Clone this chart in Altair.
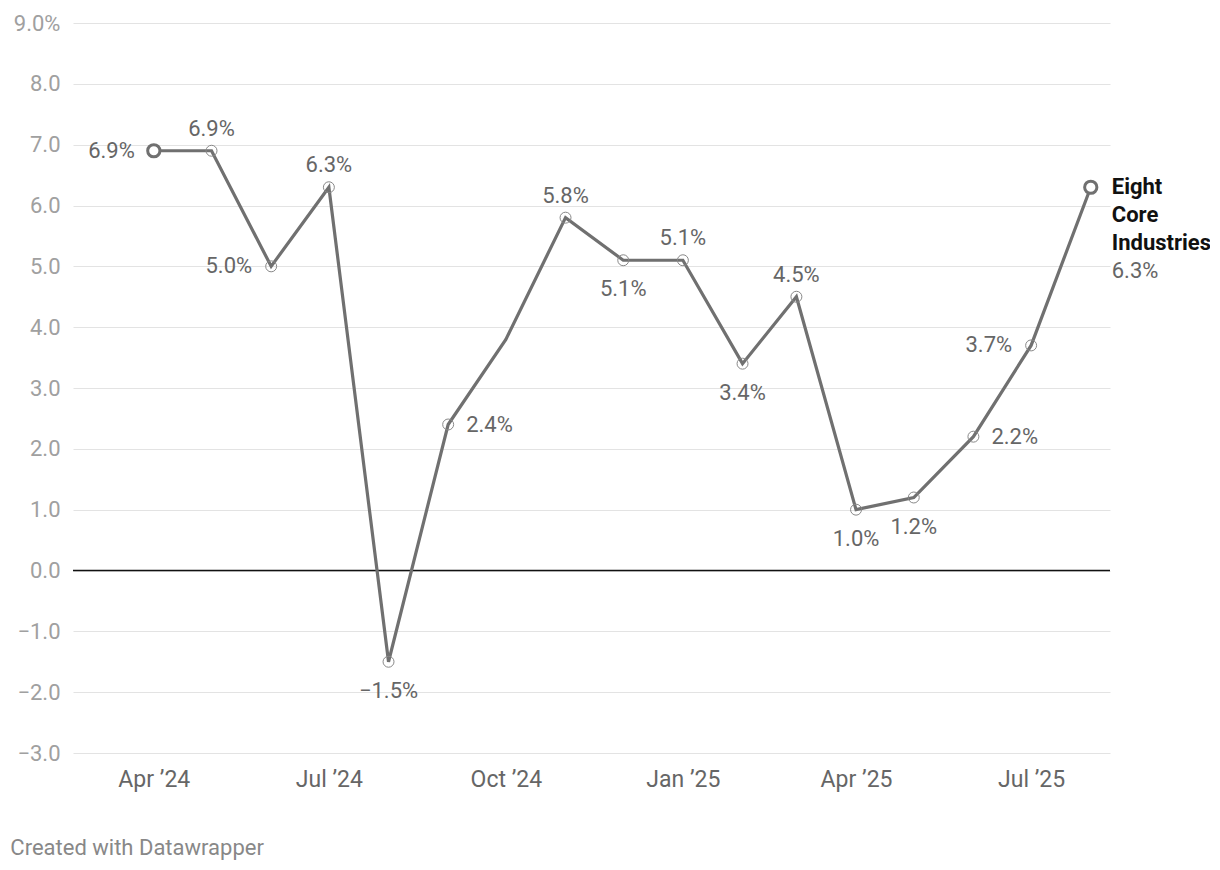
import altair as alt
import pandas as pd

# ---- data ----
months = ["2024-04-01", "2024-05-01", "2024-06-01", "2024-07-01", "2024-08-01",
          "2024-09-01", "2024-10-01", "2024-11-01", "2024-12-01", "2025-01-01",
          "2025-02-01", "2025-03-01", "2025-04-01", "2025-05-01", "2025-06-01",
          "2025-07-01", "2025-08-01"]
values = [6.9, 6.9, 5.0, 6.3, -1.5, 2.4, 3.8, 5.8, 5.1, 5.1, 3.4, 4.5, 1.0, 1.2, 2.2, 3.7, 6.3]
placement = ["left", "above", "left", "above", "below", "right", "none", "above",
             "below", "above", "below", "above", "below", "below", "right", "left", "end"]
series_name = "Eight Core Industries"
y_ticks = list(range(-3, 10))
x_ticks = ["2024-04-01", "2024-07-01", "2024-10-01", "2025-01-01", "2025-04-01", "2025-07-01"]
footer = "Created with Datawrapper"

df = pd.DataFrame({"month": months, "value": values, "pos": placement})
df["idx"] = range(len(df))
df["label"] = [f"{v:.1f}%".replace("-", "\u2212") for v in values]
df["name"] = series_name

FONT = "Roboto"
LINE = "#707070"
LABEL = "#666666"
FS = 22

x_enc = alt.X("month:T",
              scale=alt.Scale(type="utc",
                              domain=[alt.DateTime(year=2024, month=2, date=19, utc=True),
                                      alt.DateTime(year=2025, month=8, date=11, utc=True)]),
              axis=alt.Axis(values=[alt.DateTime(year=int(s[:4]), month=int(s[5:7]), date=1, utc=True) for s in x_ticks],
                            format="%b \u2019%y", grid=False, domain=False, ticks=False,
                            labelPadding=15, labelFontSize=23, labelColor=LABEL,
                            labelFont=FONT, title=None))
y_enc = alt.Y("value:Q",
              scale=alt.Scale(domain=[-3, 9], nice=False, zero=False),
              axis=alt.Axis(values=y_ticks,
                            labelExpr="datum.value == 9 ? '9.0%' : format(datum.value, '.1f')",
                            grid=True, gridColor="#e3e3e3", gridWidth=1, domain=False, ticks=False,
                            labelPadding=13, labelFontSize=FS, labelColor="#a0a0a0",
                            labelFont=FONT, title=None))

base = alt.Chart(df).encode(x=x_enc, y=y_enc)

zero = alt.Chart(pd.DataFrame({"z": [0]})).mark_rule(color="#111", strokeWidth=1.5).encode(y="z:Q")

line = base.mark_line(color=LINE, strokeWidth=3.2)

small = base.mark_point(shape="circle", size=120, filled=False, stroke="#888", strokeWidth=1,
                        opacity=1).transform_filter(
    "datum.idx > 0 && datum.idx < 16 && datum.pos != 'none'")

ends = base.mark_point(shape="circle", size=150, filled=True, fill="white", stroke=LINE,
                       strokeWidth=3, opacity=1).transform_filter("datum.idx == 0 || datum.idx == 16")

def lab(pos, **kw):
    return base.mark_text(font=FONT, fontSize=FS, color=LABEL, **kw).encode(
        text="label:N").transform_filter(f"datum.pos == '{pos}'")

lab_left = lab("left", align="right", baseline="middle", dx=-19)
lab_right = lab("right", align="left", baseline="middle", dx=18)
lab_above = lab("above", align="center", baseline="middle", dy=-22)
lab_below = lab("below", align="center", baseline="middle", dy=29)

end_name = base.mark_text(font=FONT, fontSize=FS, fontWeight="bold", color="#111",
                          align="left", baseline="middle", dx=21, lineBreak=" ",
                          lineHeight=28, dy=0).encode(text="name:N").transform_filter("datum.pos == 'end'")
end_val = base.mark_text(font=FONT, fontSize=FS, color=LABEL, align="left", baseline="middle",
                         dx=21, dy=84).encode(text="label:N").transform_filter("datum.pos == 'end'")

chart = alt.layer(zero, line, small, ends, lab_left, lab_right, lab_above, lab_below,
                  end_name, end_val).properties(
    width=1037, height=730,
    autosize=alt.AutoSizeParams(type="none"),
    padding={"left": 65, "top": 15, "right": 100, "bottom": 117},
    title=alt.TitleParams(footer, orient="bottom", anchor="start", fontSize=22, color="#888",
                          fontWeight="normal", font=FONT, dx=-3, offset=47),
    background="white",
).configure_view(stroke=None)

chart.save("out.html", embed_options={"renderer": "svg", "actions": False})
